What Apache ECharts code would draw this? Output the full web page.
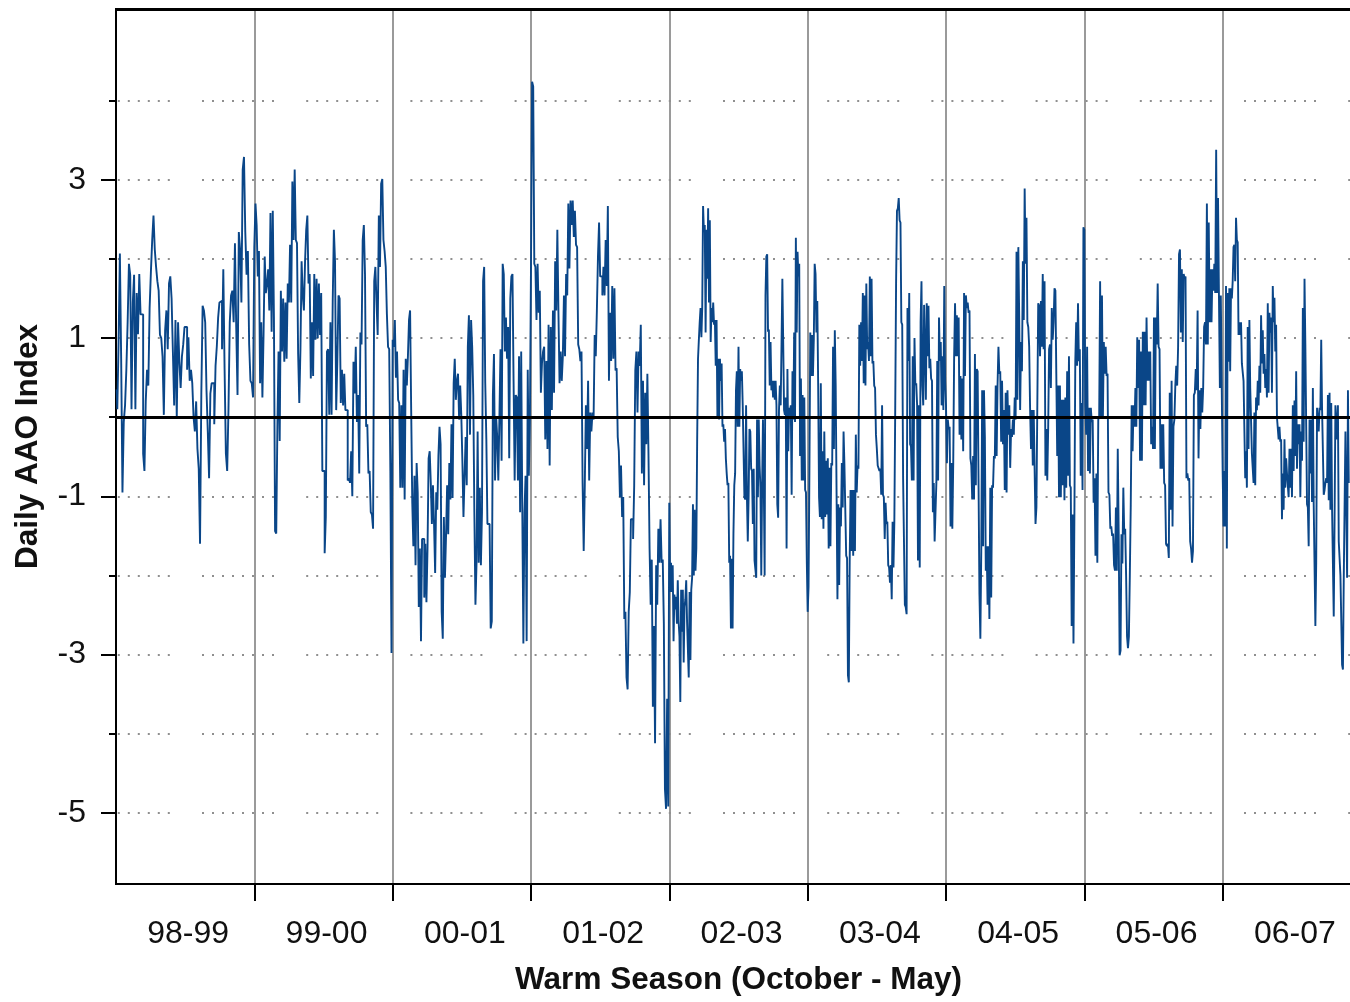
<!DOCTYPE html>
<html>
<head>
<meta charset="utf-8">
<script src="https://cdn.jsdelivr.net/npm/echarts@6/dist/echarts.min.js"></script>
<style>
  html, body { margin: 0; padding: 0; background: #ffffff; overflow: hidden; }
  /* the plot runs a little past the right edge of the window */
  #chart { width: 1361px; height: 1002px; }
</style>
</head>
<body>
<div id="chart"></div>
<script>
// Warm-season labels (October - May)
const seasons = ['98-99', '99-00', '00-01', '01-02', '02-03', '03-04', '04-05', '05-06', '06-07'];

// Daily AAO index, one array per warm season
const aao9899 = [0.35, 0.1, 0.95, 2.07, 0.74, -0.95, -0.06, 0.15, 0.6, 1.2,
  1.94, 1.8, 0.1, 1.45, 1.8, 0.1, 1.57, 1.05, 1.81, 1.3,
  1.3, -0.46, -0.68, 0.2, 0.6, 0.4, 1.38, 1.84, 2.24, 2.55,
  2.12, 1.9, 1.72, 1.6, 1.04, 1.0, 0.77, 0.03, 1.1, 1.35,
  0.86, 1.69, 1.78, 1.5, 0.83, 0.15, 1.23, 0.0, 1.2, 0.7,
  0.37, 0.77, 0.92, 1.14, 1.14, 0.6, 1.01, 0.46, 0.6, 0.43,
  0.0, -0.18, 0.2, -0.4, -0.65, -1.6, 0.3, 1.41, 1.35, 1.2,
  0.34, -0.18, -0.77, 0.3, 0.43, 0.43, -0.09, 0.65, 0.9, 1.26,
  1.45, 1.47, 0.86, 1.87, 0.6, -0.46, -0.68, 0.1, 1.2, 1.54,
  1.6, 1.2, 2.2, 1.13, 0.28, 2.34, 2.12, 1.45, 3.13, 3.29,
  2.34, 1.8, 2.1, 0.92, 0.46, 0.43, 0.25];

const aao9900 = [2.15, 2.7, 2.43, 1.78, 2.1, 0.43, 1.2, 0.25, 1.05, 2.03,
  1.57, 1.69, 1.87, 1.35, 2.58, 1.08, 2.61, 1.26, -1.44, -1.47,
  -0.12, 0.83, -0.3, 1.6, 0.83, 1.5, 0.7, 1.45, 0.74, 1.69,
  1.45, 2.18, 1.45, 2.98, 2.24, 3.13, 2.24, 2.2, 0.8, 0.18,
  0.86, 1.97, 1.54, 1.35, 1.97, 2.37, 2.55, 1.69, 1.81, 0.49,
  1.2, 0.52, 1.81, 0.98, 1.75, 1.0, 1.69, 1.04, 1.57, -0.68,
  -0.68, -1.72, -1.26, 0.83, 0.86, 0.03, 1.2, 0.03, 1.47, 2.37,
  1.97, 0.09, 0.7, 1.54, 1.5, 0.18, 0.6, 0.15, 0.55, 0.09,
  0.09, -0.8, -0.77, -0.83, -0.43, -1.0, 0.7, 0.3, 0.89, -0.06,
  0.28, -0.71, 1.07, 0.92, 2.24, 2.43, 1.81, -0.12, -0.09, -0.71,
  -0.68, -1.2, -1.23, -1.41, 1.72, 1.9, 1.45, 1.04, 2.55, 1.9,
  2.95, 3.01, 2.24, 2.1, 1.9, 1.3, 0.89, 0.86, -0.68, -2.98];

const aao0001 = [0.98, 0.89, 1.23, 0.5, 0.83, 0.22, 0.18, -0.89, 0.15, -0.89,
  0.6, -1.04, 0.74, 0.4, 0.77, 1.23, 1.35, 0.09, -1.08, -1.63,
  -0.74, -1.87, -0.58, -0.95, -2.4, -1.66, -2.83, -1.54, -1.54, -2.28,
  -1.6, -2.34, -1.66, -0.52, -0.43, -0.83, -1.35, -0.86, -1.35, -1.97,
  -0.95, -1.17, -0.49, -0.12, -0.34, -2.46, -2.8, -1.26, -2.03, -1.5,
  -0.86, -1.48, -0.58, -1.04, -0.09, -1.02, 0.43, 0.74, 0.22, 0.46,
  0.55, -0.03, 0.4, 0.03, -0.55, -1.26, -0.74, -0.25, -0.86, 0.89,
  1.29, -0.22, 1.23, 0.89, 0.28, -1.2, -2.37, -1.84, -0.18, -1.84,
  -0.89, -1.87, -1.2, 1.72, 1.9, 0.43, -0.28, -1.35, -1.35, -1.38,
  -2.67, -2.58, 0.28, 0.8, -0.8, 0.0, -0.25, -0.8, 0.0, 0.86,
  -0.55, 1.94, 1.81, 0.83, 1.26, 0.74, 1.14, -0.52, 1.5, 1.78,
  1.81, 0.46, -0.8, 0.28, 0.25, -0.8, 0.77, -1.2, 0.83, -1.17,
  -2.86, -1.2, -0.74, -2.83, 0.6, -0.74, -0.03];

const aao0102 = [1.94, 4.24, 4.18, 1.94, 1.9, 1.23, 1.94, 1.32, 1.6, 0.31,
  0.68, 0.83, 0.89, -0.28, 0.71, -0.4, 1.17, -0.61, 1.14, 0.09,
  1.35, 0.31, 1.97, 1.35, 2.37, 1.32, 0.43, 0.83, 0.46, 0.77,
  1.54, 0.77, 1.81, 1.54, 2.7, 1.88, 2.74, 2.43, 2.74, 2.28,
  2.61, 2.18, 2.15, 0.92, 0.86, 0.71, 0.83, -0.83, -1.69, -0.86,
  0.15, -0.4, 0.46, -0.8, 0.06, -0.18, 0.06, -0.03, 1.04, 0.77,
  1.35, 2.03, 2.46, 1.78, 1.78, 1.54, 1.9, 1.54, 2.24, 1.66,
  2.67, 0.46, 1.32, 0.71, 1.66, 0.74, 1.63, 0.59, 0.62, -0.25,
  -0.43, -1.01, -0.61, -1.26, -1.01, -2.55, -2.46, -3.29, -3.44, -2.46,
  -2.21, -1.29, -1.29, -1.54, -0.86, 0.59, 0.83, 0.06, 0.83, 0.65,
  1.17, -0.71, 0.46, -0.86, 0.31, -0.34, 0.55, -0.46, -1.66, -2.37,
  -1.8, -3.66, -2.64, -4.12, -1.87, -2.37, -1.41, -1.84, -1.29, -1.84,
  -1.8, -2.61, -4.7, -4.95, -3.56, -4.92];

const aao0203 = [-1.08, -2.21, -1.84, -2.21, -1.87, -2.83, -2.24, -2.43, -2.27, -2.61,
  -2.06, -2.58, -2.77, -3.6, -2.18, -2.71, -2.18, -3.1, -2.4, -2.3,
  -2.06, -2.58, -2.58, -3.29, -2.21, -3.07, -2.18, -2.03, -1.1, -2.0,
  -1.17, -1.94, -1.66, -0.28, 0.74, 0.98, 1.2, 1.38, 1.01, 1.38,
  2.67, 2.34, 2.43, 1.07, 2.37, 1.75, 2.64, 1.45, 2.49, 0.95,
  1.38, 1.2, 1.45, 1.17, 1.23, 0.65, 1.23, 0.0, 0.74, -0.03,
  0.74, 0.46, 0.68, -0.12, -0.09, -0.31, -0.15, -0.52, -0.71, -0.86,
  -0.83, -1.84, -1.75, -2.67, -1.79, -2.67, -1.47, -0.86, -0.71, 0.34,
  0.58, -0.12, 0.89, -0.12, 0.61, 0.46, 0.58, 0.15, 0.15, -1.01,
  -1.04, 0.15, -1.01, -1.57, -1.01, -0.15, -0.18, -0.65, -0.68, -1.35,
  -0.65, -1.81, -1.81, -2.03, -0.03, -1.01, -0.03, -0.61, -0.89, -2.0,
  -0.86, -0.03, -0.86, -2.0, 1.54, 2.03, 2.06, 1.08, 1.11, 0.4,
  0.95, 0.34, 0.46, 0.25, 0.46, 0.22, 0.46, 0.15, -1.1, -1.27,
  0.09, 0.4, 0.15, 0.92, 1.75, 0.95, 0.09, 0.03, 0.25, -1.66,
  0.61, -0.43, 0.12, 0.06, 0.15, -0.98, 0.58, -0.03, 1.07, -0.06,
  2.27, 1.07, 2.09, 1.78, 1.94, -0.49, 0.49, -0.8, 0.28, -0.8,
  0.25, -0.92, -0.95, -1.84];

const aao0304 = [-2.46, -2.15, -0.65, 1.07, 0.52, 1.04, 0.52, 0.98, 1.94, 1.81,
  1.07, 1.47, 0.4, -1.01, -1.26, 0.43, -1.29, -0.43, -1.41, -0.18,
  -1.26, -0.55, -1.23, -0.52, -1.66, -0.64, -1.63, -0.58, -0.61, 0.89,
  -0.4, 1.1, 0.4, 0.4, -2.3, -1.1, -2.12, -1.14, -1.38, -0.58,
  -1.14, -0.18, -0.61, -0.61, -1.75, -1.78, -3.26, -3.35, -1.81, -0.92,
  -1.69, -0.92, -1.75, -0.92, -1.69, -0.22, -0.95, -0.61, -0.65, 1.17,
  0.65, 1.2, 0.71, 1.57, 0.43, 1.54, 0.4, 1.69, 0.86, 0.95,
  0.71, 1.78, 0.77, 1.75, 0.68, 0.71, 0.4, 0.37, -0.22, -0.4,
  -0.61, -0.61, -0.68, -0.65, -0.98, 0.15, -0.98, -1.01, -1.54, -1.08,
  -1.35, -1.32, -1.87, -1.9, -2.09, -1.87, -2.3, -1.32, -1.9, -1.32,
  0.09, 1.72, 2.61, 2.64, 2.77, 2.49, 2.46, 1.2, 1.17, -0.77,
  -1.57, -2.37, -2.4, -2.49, 1.38, 0.71, 1.57, -0.34, -0.37, -0.8,
  0.77, -0.8, 1.0, 0.4, 0.43, 0.15, -1.81, 0.15, -1.9, 1.2,
  1.72, 0.4, 0.15, 1.42, 0.86, 0.22, 1.44, 0.77, 1.41, 0.62,
  0.74, 0.49, 0.46, -1.2, -0.83, -1.57, -1.57, -0.83, 0.71, -0.8,
  1.26, 0.71, 0.95, 0.15, 0.77, 0.09, 1.66, 0.46];

const aao0405 = [0.15, -0.58, -0.03, -0.15, -0.12, -1.38, -0.58, -1.41, -0.58, 0.77,
  1.44, 0.77, 1.29, 0.77, 1.26, -0.22, 0.52, -0.28, 0.49, -0.43,
  1.57, 0.52, 1.54, 1.38, 1.45, 1.32, 1.35, -0.52, -0.61, -1.04,
  -0.49, -1.04, 0.8, -0.86, 0.61, 0.58, 0.58, -2.24, -2.8, -1.69,
  0.34, -1.63, 0.34, -0.25, -1.94, -1.63, -2.37, -1.63, -2.55, -0.89,
  -2.28, -0.86, -0.89, -0.49, -0.52, 0.4, -0.49, 0.4, 0.89, 0.55,
  0.58, -0.31, 0.46, -0.34, 0.09, -0.92, 0.31, -0.95, 0.34, -0.22,
  0.15, -0.64, -0.15, -0.25, -0.03, -0.22, 0.25, -0.03, 2.09, 0.22,
  2.15, 1.23, 0.09, 0.95, 0.58, 1.97, 1.23, 2.89, 1.94, 2.52,
  1.2, 1.14, 0.89, 0.12, -0.4, 0.09, -0.61, 0.09, -0.65, -1.35,
  -1.14, 0.15, 1.44, 1.41, 0.77, 1.47, 0.89, 1.81, 0.86, 1.72,
  -0.74, -0.15, -0.8, -0.15, 0.86, 0.92, 0.37, 1.38, 0.98, 1.2,
  1.63, 1.6, 0.55, -0.49, 0.4, -1.01, 0.4, -1.01, 0.22, -0.86,
  0.22, -1.05, 0.25, -0.89, 0.58, -0.74, 0.77, -0.86, -0.89, -2.64,
  -1.23, -2.86, -1.26, 0.71, 1.2, 0.65, 1.44, 0.71, 0.86, -0.74,
  0.18, -0.92, 2.4];

const aao0506 = [2.37, 0.15, -0.22, 0.89, -0.68, 0.12, -0.71, 0.12, -0.06, -0.03,
  -1.08, -0.77, -1.75, -0.71, -1.84, -0.03, 0.0, 1.72, 0.0, 1.54,
  0.0, 0.95, 0.55, 0.89, 0.52, 0.55, -0.95, -0.98, -1.41, -1.38,
  -1.5, -1.47, -1.87, -1.94, -1.14, -1.94, -0.4, -1.45, -3.01, -2.95,
  -1.48, -1.85, -0.89, -1.48, -1.41, -2.0, -2.77, -2.92, -2.77, -2.0,
  -1.11, 0.15, -0.43, 0.15, -0.12, 0.37, -0.12, 1.01, 0.37, 0.98,
  -0.55, 0.83, -0.55, 1.08, 0.15, 1.08, 0.15, 1.26, 0.46, 0.83,
  0.46, 0.83, -0.34, -0.12, -0.4, 1.26, -0.4, 1.26, 0.92, 1.69,
  0.89, 0.86, -0.65, -0.09, -0.65, -0.09, -0.83, -0.86, -1.6, -1.63,
  -1.6, -1.78, 0.31, -1.17, 0.46, -1.38, -0.12, -0.03, 0.4, 0.65,
  0.4, 0.89, 2.06, 2.12, 1.07, 1.87, 0.95, 1.81, 1.75, 1.78,
  -0.77, -0.71, -0.8, -0.77, -1.57, -1.66, -1.84, -1.69, 0.28, 0.31,
  0.61, 0.34, 1.35, -0.52, 0.34, -0.15, 0.37, 0.06, 0.37, 1.14,
  1.2, 0.92, 2.7, 0.92, 2.46, 1.2, 1.87, 1.2, 1.87, 1.6,
  1.94, 1.57, 3.38, 1.57, 2.77, 1.54, 0.37, 1.54, 0.37];

const aao0607 = [-0.68, -1.38, -0.68, -1.38, 1.66, -1.66, 1.57, 0.7, 1.63, 0.58,
  1.63, 1.5, 1.72, 2.15, 2.18, 1.72, 2.52, 2.24, 2.21, 1.04,
  1.2, 1.04, 1.2, 0.68, 0.68, 0.46, 0.46, -0.77, -0.43, -0.89,
  1.14, -0.4, 1.23, 0.37, 0.37, -0.46, -0.46, -0.83, 0.06, -0.86,
  0.25, 0.09, 0.46, 0.15, 0.65, 0.31, 1.29, 0.68, 1.1, 0.55,
  0.8, 0.37, 0.61, 0.25, 1.44, 0.31, 1.32, 1.07, 1.26, 0.31,
  1.66, 1.2, 1.51, 0.83, 1.17, 0.0, 0.0, -0.28, -0.12, -0.31,
  -0.28, -1.29, -0.71, -1.17, -0.28, -0.89, -0.52, -0.71, -0.71, -1.01,
  -0.4, -0.89, -0.4, -1.01, 0.15, -0.68, 0.21, -0.49, 0.58, -0.65,
  -0.09, -0.34, -0.09, -1.01, -0.18, -0.55, 1.38, -0.31, 1.75, 0.92,
  0.92, -1.1, -1.14, -1.63, -0.03, -0.71, -0.03, -1.07, 0.37, -1.1,
  -1.1, -2.64, -1.84, 0.12, 0.12, -0.18, 0.12, 0.09, 0.98, 0.12,
  0.12, -0.98, -0.92, -0.83, -0.77, -0.83, 0.28, -1.05, 0.31, -1.17,
  0.18, -1.17, -1.17, -2.52, -1.29, 0.15, 0.15, -0.28, 0.15, -1.57,
  -1.57, -2.0, -2.0, -3.13, -3.19, -2.03, -2.03, -0.18, -0.18, -2.03,
  0.34, -0.83];

// Days in an October-May window, and days on record for each season
const seasonDays = 243;
const daysOnRecord = [243, 243, 243, 243, 243, 243, 243, 243, 223];

// Y-axis ticks: labelled (odd) and unlabelled (even) values
const yLabelTicks = [3, 1, -1, -3, -5];
const yPlainTicks = [4, 2, 0, -2, -4];
const yDottedLines = [4, 3, 2, 1, -1, -2, -3, -4, -5];

const seasonSeries = [aao9899, aao9900, aao0001, aao0102, aao0203, aao0304, aao0405, aao0506, aao0607];

// Place each season's values on a day axis running through all seasons
const points = [];
seasonSeries.forEach(function (vals, s) {
  const step = daysOnRecord[s] / vals.length;
  vals.forEach(function (v, i) {
    points.push([s * seasonDays + (i + 0.5) * step, v]);
  });
});
const seasonBoundaries = seasons.slice(1).map(function (_, i) { return (i + 1) * seasonDays; });

const FONT = "'Liberation Sans', Arial, Helvetica, sans-serif";
const TEXT = '#111111';

// eight dots 10px apart, then a longer gap
const dotPattern = [2, 8, 2, 8, 2, 8, 2, 8, 2, 8, 2, 8, 2, 8, 2, 32.2];

const chart = echarts.init(document.getElementById('chart'), null, { renderer: 'canvas' });

chart.setOption({
  animation: false,
  backgroundColor: '#ffffff',
  grid: {
    left: 116, right: 0, top: 9, bottom: 118,
    show: true, borderColor: '#000000', borderWidth: 2,
    backgroundColor: 'transparent', z: 1
  },
  xAxis: [
    {
      type: 'category',
      data: seasons,
      boundaryGap: true,
      position: 'bottom',
      axisLine: { show: false, onZero: false },
      axisTick: { show: false },
      splitLine: { show: false },
      axisLabel: {
        fontSize: 32, fontFamily: FONT, color: TEXT, margin: 34, interval: 0,
        padding: [0, 0, 0, 6]
      },
      name: 'Warm Season (October - May)',
      nameLocation: 'middle',
      nameGap: 80,
      nameTextStyle: { fontSize: 31.5, fontWeight: 'bold', fontFamily: FONT, color: TEXT }
    },
    {
      type: 'value',
      min: 0,
      max: seasonDays * seasons.length,
      interval: seasonDays,
      position: 'bottom',
      z: 0,
      axisLine: { show: false, onZero: false },
      axisTick: {
        show: true, customValues: seasonBoundaries, length: 17,
        lineStyle: { color: '#000000', width: 2 }
      },
      axisLabel: { show: false },
      splitLine: { show: true, lineStyle: { color: '#9a9a9a', width: 2 } }
    }
  ],
  yAxis: [
    {
      type: 'value',
      min: -5.9, max: 5.16,
      position: 'left',
      axisLine: { show: false, onZero: false },
      axisTick: {
        show: true, customValues: yPlainTicks, length: 7,
        lineStyle: { color: '#000000', width: 2 }
      },
      axisLabel: { show: false },
      splitLine: { show: false }
    },
    {
      type: 'value',
      min: -5.9, max: 5.16,
      position: 'left',
      axisLine: { show: false, onZero: false },
      axisTick: {
        show: true, customValues: yLabelTicks, length: 15,
        lineStyle: { color: '#000000', width: 2 }
      },
      axisLabel: {
        show: true, customValues: yLabelTicks, fontSize: 32,
        fontFamily: FONT, color: TEXT, margin: 30
      },
      splitLine: { show: false },
      name: 'Daily AAO Index',
      nameLocation: 'middle',
      nameGap: 72,
      nameTextStyle: { fontSize: 31.5, fontWeight: 'bold', fontFamily: FONT, color: TEXT }
    }
  ],
  series: [
    {
      // dotted reference lines at whole index values
      type: 'line',
      xAxisIndex: 1, yAxisIndex: 0,
      data: [],
      silent: true,
      markLine: {
        silent: true, symbol: 'none', z: 1, animation: false,
        label: { show: false },
        lineStyle: { type: dotPattern, dashOffset: 18.2, color: '#8f8f8f', width: 2 },
        data: yDottedLines.map(function (v) { return { yAxis: v }; })
      }
    },
    {
      name: 'Daily AAO Index',
      type: 'line',
      xAxisIndex: 1, yAxisIndex: 0,
      data: points,
      step: 'middle',
      symbol: 'none',
      showSymbol: false,
      z: 3,
      lineStyle: { color: '#0a4688', width: 1.9 }
    },
    {
      // zero reference line drawn over the data
      type: 'line',
      xAxisIndex: 1, yAxisIndex: 0,
      data: [],
      silent: true,
      markLine: {
        silent: true, symbol: 'none', z: 6, animation: false,
        label: { show: false },
        lineStyle: { type: 'solid', color: '#000000', width: 3 },
        data: [{ yAxis: 0 }]
      }
    },
    {
      // heavier top edge of the plot frame
      type: 'line',
      xAxisIndex: 1, yAxisIndex: 0,
      data: [],
      silent: true,
      markLine: {
        silent: true, symbol: 'none', z: 6, animation: false,
        label: { show: false },
        lineStyle: { type: 'solid', color: '#000000', width: 3 },
        data: [{ yAxis: 5.16 }]
      }
    }
  ]
});
</script>
</body>
</html>
